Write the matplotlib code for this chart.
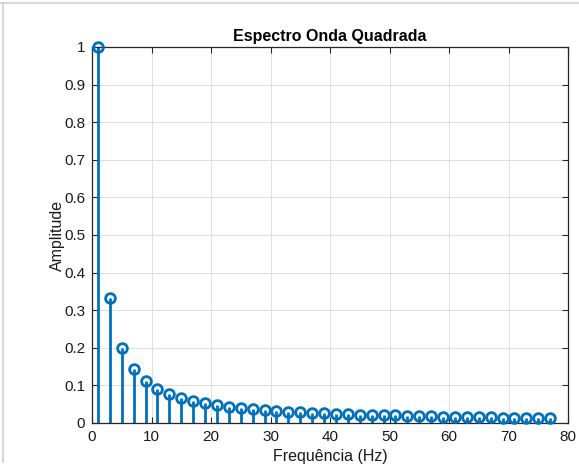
import matplotlib
matplotlib.use("Agg")
import matplotlib.pyplot as plt
from matplotlib.lines import Line2D

# Odd harmonics of the square wave and their normalised amplitudes
freqs = [1, 3, 5, 7, 9, 11, 13, 15, 17, 19, 21, 23, 25, 27, 29, 31, 33, 35, 37, 39,
         41, 43, 45, 47, 49, 51, 53, 55, 57, 59, 61, 63, 65, 67, 69, 71, 73, 75, 77]
amps = [1.0, 0.333, 0.2, 0.143, 0.111, 0.091, 0.077, 0.067, 0.059, 0.053,
        0.048, 0.043, 0.040, 0.037, 0.034, 0.032, 0.030, 0.029, 0.027, 0.026,
        0.024, 0.023, 0.022, 0.021, 0.020, 0.020, 0.019, 0.018, 0.018, 0.017,
        0.016, 0.016, 0.015, 0.015, 0.014, 0.014, 0.014, 0.013, 0.013]
xticks = [0, 10, 20, 30, 40, 50, 60, 70, 80]
yticks = [0, 0.1, 0.2, 0.3, 0.4, 0.5, 0.6, 0.7, 0.8, 0.9, 1]
ytick_labels = ["0", "0.1", "0.2", "0.3", "0.4", "0.5", "0.6", "0.7", "0.8", "0.9", "1"]

plt.rcParams["font.family"] = ["Liberation Sans", "DejaVu Sans"]
blue = "#0072BD"
axis_col = "#262626"

fig = plt.figure(figsize=(5.79, 4.66), dpi=100)
ax = fig.add_axes([92 / 579, 1 - 423 / 466, (568 - 92) / 579, (423 - 47) / 466])

markerline, stemlines, baseline = ax.stem(freqs, amps, basefmt=" ")
plt.setp(stemlines, color=blue, linewidth=2.0)
plt.setp(markerline, color=blue, marker="o", markersize=7,
         markerfacecolor="none", markeredgewidth=2.0, clip_on=False, zorder=5)

ax.set_xlim(0, 80)
ax.set_ylim(0, 1)
ax.set_xticks(xticks)
ax.set_yticks(yticks)
ax.set_yticklabels(ytick_labels)
ax.grid(True, color="#e0e0e0", linewidth=0.7)
ax.set_axisbelow(True)
for s in ax.spines.values():
    s.set_color(axis_col)
    s.set_linewidth(0.9)
ax.tick_params(direction="in", top=True, right=True, length=4, width=0.8,
               colors=axis_col, labelsize=11, labelcolor="#1a1a1a", pad=5)

ax.set_title("Espectro Onda Quadrada", fontsize=11.5, fontweight="bold", pad=4)
ax.set_xlabel("Frequência (Hz)", fontsize=11.5, color="#1a1a1a", labelpad=4)
ax.set_ylabel("Amplitude", fontsize=11.5, color="#1a1a1a", labelpad=-1)

# Thin light frame along the top and left of the canvas
fig.add_artist(Line2D([0, 1], [1 - 3 / 466, 1 - 3 / 466], transform=fig.transFigure,
                      color="#d0d0d0", linewidth=1.2))
fig.add_artist(Line2D([3 / 579, 3 / 579], [1 - 3 / 466, 4 / 466], transform=fig.transFigure,
                      color="#d0d0d0", linewidth=1.2))

fig.savefig("out.png", dpi=100)
